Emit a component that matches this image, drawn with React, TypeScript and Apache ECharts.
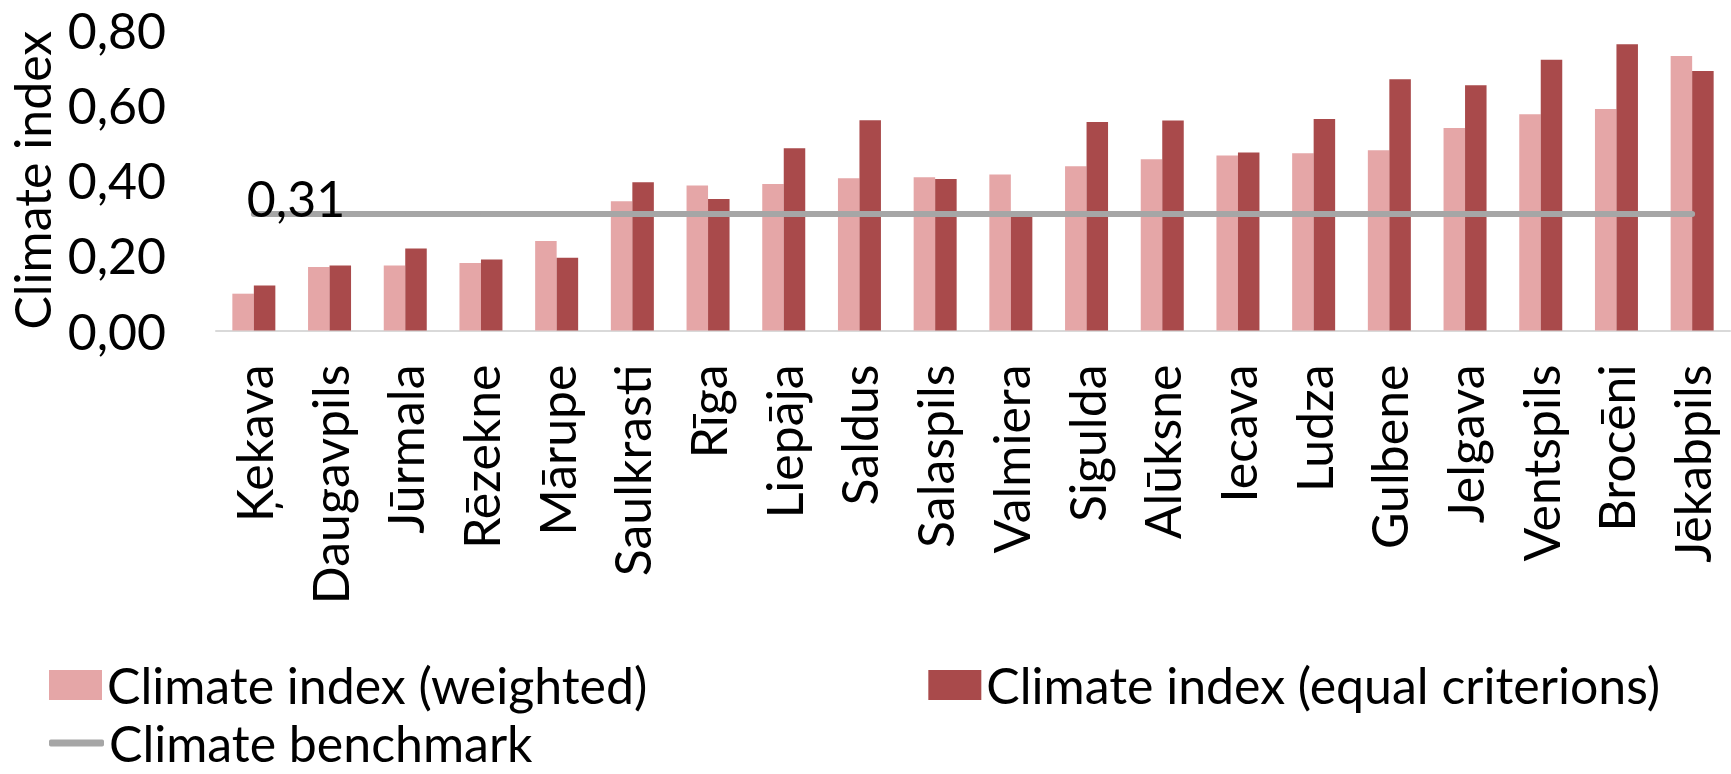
import React, { useEffect, useRef } from "react";
import * as echarts from "echarts";

const categories = [
  "Ķekava", "Daugavpils", "Jūrmala", "Rēzekne", "Mārupe", "Saulkrasti", "Rīga",
  "Liepāja", "Saldus", "Salaspils", "Valmiera", "Sigulda", "Alūksne", "Iecava",
  "Ludza", "Gulbene", "Jelgava", "Ventspils", "Brocēni", "Jēkabpils",
];
const weighted = [
  0.098, 0.169, 0.173, 0.18, 0.238, 0.344, 0.386, 0.39, 0.405, 0.408,
  0.415, 0.437, 0.456, 0.466, 0.472, 0.48, 0.539, 0.576, 0.59, 0.731,
];
const equalCriterions = [
  0.12, 0.173, 0.218, 0.189, 0.194, 0.395, 0.35, 0.485, 0.56, 0.403,
  0.305, 0.555, 0.559, 0.474, 0.563, 0.669, 0.653, 0.721, 0.762, 0.691,
];
const benchmark = [
  0.31, 0.31, 0.31, 0.31, 0.31, 0.31, 0.31, 0.31, 0.31, 0.31,
  0.31, 0.31, 0.31, 0.31, 0.31, 0.31, 0.31, 0.31, 0.31, 0.31,
];
const yTicks = [0, 0.2, 0.4, 0.6, 0.8];

const FONT = "Lato";
const FS = 50;
const fmt = (v: number) => v.toFixed(2).replace(".", ",");

export default function App() {
  const ref = useRef<HTMLDivElement>(null);
  useEffect(() => {
    document.body.style.margin = "0";
    const chart = echarts.init(ref.current!, null, { renderer: "svg" });
    chart.setOption({
      animation: false,
      backgroundColor: "#ffffff",
      textStyle: { fontFamily: FONT, color: "#000" },
      grid: {
        left: 216,
        right: 1,
        top: 30,
        bottom: 443.5,
        containLabel: false,
        outerBoundsMode: "none",
      },
      legend: [
        {
          data: ["Climate index (weighted)", "Climate index (equal criterions)"],
          left: 44,
          top: 655,
          padding: 5,
          itemWidth: 53,
          itemHeight: 30,
          itemGap: 281,
          icon: "rect",
          textStyle: { fontFamily: FONT, fontSize: FS, lineHeight: 40, color: "#000" },
        },
        {
          data: [{ name: "Climate benchmark", icon: "roundRect" }],
          left: 44,
          top: 713,
          padding: 5,
          itemWidth: 55,
          itemHeight: 7,
          textStyle: { fontFamily: FONT, fontSize: FS, lineHeight: 40, color: "#000" },
        },
      ],
      xAxis: {
        type: "category",
        data: categories,
        axisLine: { show: true, lineStyle: { color: "#d9d9d9", width: 2 } },
        axisTick: { show: false },
        axisLabel: {
          rotate: 90,
          margin: 34,
          interval: 0,
          fontFamily: FONT,
          fontSize: FS,
          color: "#000",
        },
      },
      yAxis: {
        type: "value",
        min: 0,
        max: 0.8,
        interval: 0.2,
        name: "Climate index",
        nameLocation: "middle",
        nameRotate: 90,
        nameGap: 157,
        nameTextStyle: { fontFamily: FONT, fontSize: FS, color: "#000" },
        axisLine: { show: false },
        axisTick: { show: false },
        splitLine: { show: false },
        axisLabel: {
          formatter: (v: number) => fmt(v),
          margin: 50,
          fontFamily: FONT,
          fontSize: FS,
          color: "#000",
          customValues: yTicks,
        },
      },
      series: [
        {
          name: "Climate index (weighted)",
          type: "bar",
          data: weighted,
          barWidth: 21.5,
          barGap: "0%",
          itemStyle: { color: "#E5A6A7" },
        },
        {
          name: "Climate index (equal criterions)",
          type: "bar",
          data: equalCriterions,
          barWidth: 21.5,
          itemStyle: { color: "#A94A4B" },
        },
        {
          name: "Climate benchmark",
          type: "line",
          data: benchmark.map((v, i) =>
            i === 0
              ? {
                  value: v,
                  label: {
                    show: true,
                    position: "top",
                    align: "left",
                    verticalAlign: "bottom",
                    offset: [-7, 14],
                    formatter: (p: any) => fmt(p.value),
                    fontFamily: FONT,
                    fontSize: FS,
                    color: "#000",
                  },
                }
              : v
          ),
          symbol: "circle",
          symbolSize: 1,
          showSymbol: true,
          itemStyle: { color: "#A6A6A6" },
          lineStyle: { color: "#A6A6A6", width: 6, cap: "round" },
          z: 5,
        },
      ],
    });
    return () => chart.dispose();
  }, []);
  return <div ref={ref} style={{ width: 1731, height: 774 }} />;
}
